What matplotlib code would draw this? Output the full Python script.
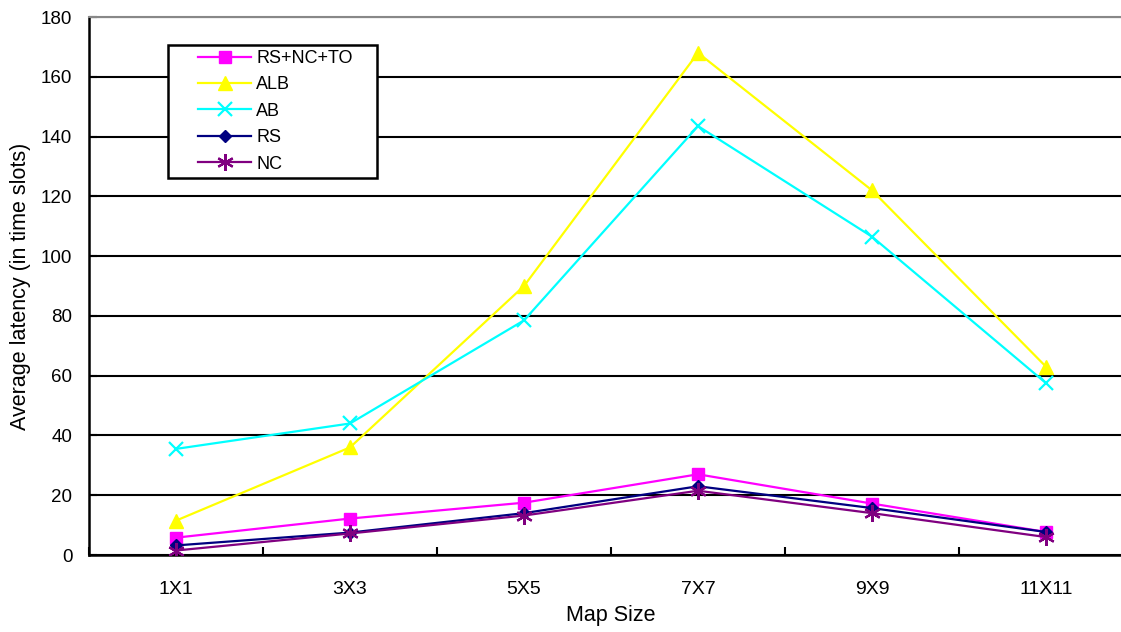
import matplotlib.pyplot as plt
from matplotlib.patches import Rectangle
import numpy as np

# data
categories = ['1X1', '3X3', '5X5', '7X7', '9X9', '11X11']
rs_nc_to = [5.8, 12.2, 17.5, 27.0, 17.2, 7.7]
alb = [11.5, 36.0, 90.0, 168.0, 122.0, 63.0]
ab = [35.5, 44.0, 78.5, 143.5, 106.5, 57.5]
rs = [3.2, 7.5, 14.0, 23.0, 15.7, 7.7]
nc = [1.5, 7.2, 13.2, 21.5, 14.0, 6.0]

plt.rcParams['font.family'] = ['Liberation Sans', 'DejaVu Sans']

W, H = 1121, 632
fig = plt.figure(figsize=(W / 100, H / 100), dpi=100)
ax = fig.add_axes([89 / W, 1 - 555 / H, 1044 / W, 538 / H])

x = np.arange(len(categories))
series = [
    ('RS+NC+TO', rs_nc_to, '#FF00FF', 's', 8, 1),
    ('ALB', alb, '#FFFF00', '^', 10, 1),
    ('AB', ab, '#00FFFF', 'x', 9.5, 1.6),
    ('RS', rs, '#000080', 'D', 6.5, 1),
    ('NC', nc, '#800080', (6, 2, 0), 12, 1.6),
]
for name, vals, col, mk, ms, mew in series:
    ax.plot(x, vals, color=col, lw=1.6, marker=mk, markersize=ms,
            markeredgewidth=mew, markerfacecolor=col, markeredgecolor=col,
            label=name, zorder=3)

ax.set_xlim(-0.5, len(categories) - 0.5)
ax.set_ylim(0, 180)
ax.set_yticks(np.arange(0, 181, 20))
ax.set_xticks(x)
ax.set_xticklabels(categories)
ax.set_xticks(np.arange(-0.5, len(categories), 1), minor=True)
ax.tick_params(axis='x', which='major', length=0, labelsize=14, pad=19)
ax.tick_params(axis='x', which='minor', length=6, width=1.5, direction='in')
ax.tick_params(axis='y', length=6, width=1.5, direction='in', labelsize=13.5, pad=12)

ax.grid(axis='y', color='black', lw=1.5, zorder=0)
ax.spines['right'].set_visible(False)
ax.spines['top'].set_color('#888888')
ax.spines['top'].set_linewidth(1.5)
ax.spines['left'].set_linewidth(1.8)
ax.spines['bottom'].set_linewidth(1.8)

ax.set_xlabel('Map Size', fontsize=15.5, labelpad=5)
ax.set_ylabel('Average latency (in time slots)', fontsize=15.5, labelpad=7)

# legend box drawn separately so the side padding can be wider than the top
box = Rectangle((168 / W, 1 - 178 / H), 209 / W, 133 / H, transform=fig.transFigure,
                facecolor='white', edgecolor='black', lw=1.8, zorder=4, clip_on=False)
ax.add_patch(box)
leg = ax.legend(loc='upper left', bbox_to_anchor=(198 / W, 1 - 50 / H),
                bbox_transform=fig.transFigure, fontsize=13, frameon=False,
                handlelength=2.95, borderpad=0, labelspacing=0.52,
                borderaxespad=0, handletextpad=0.28)
leg.set_zorder(5)

fig.savefig('out.png', dpi=100)
